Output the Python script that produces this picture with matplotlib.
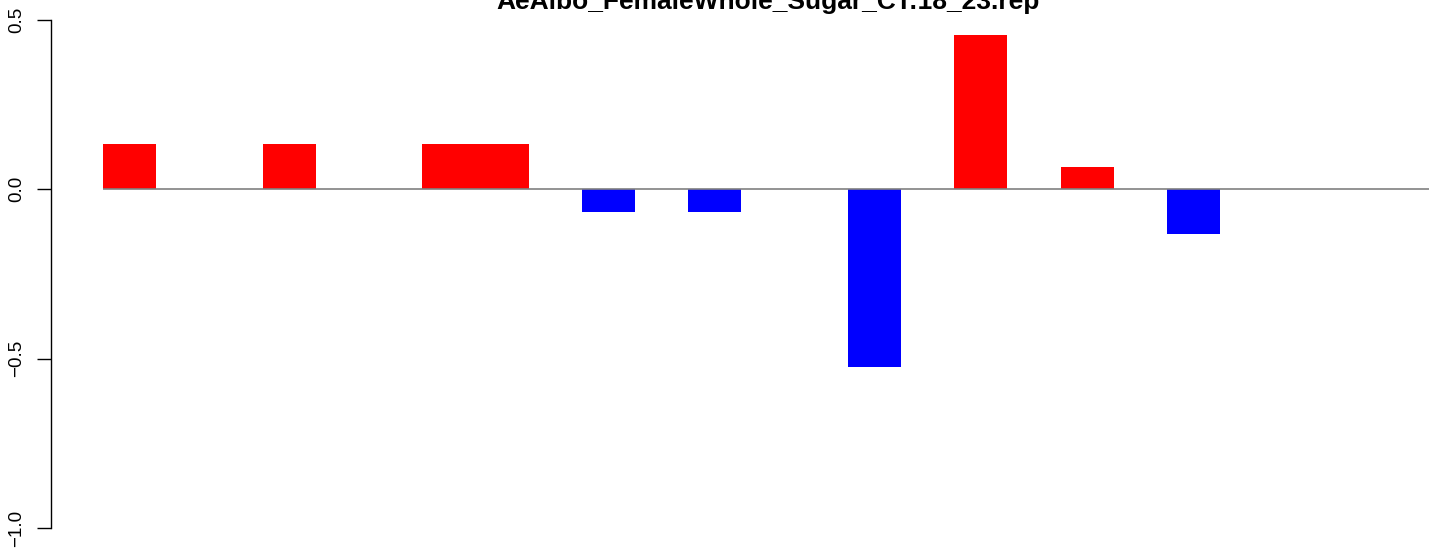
import matplotlib
matplotlib.use("Agg")
import matplotlib.pyplot as plt
import numpy as np

title = "AeAlbo_FemaleWhole_Sugar_CT:18_23.rep"
values = [0.133, 0, 0, 0.133, 0, 0, 0.133, 0.133, 0, -0.067, 0, -0.067,
          0, 0, -0.525, 0, 0.455, 0, 0.066, 0, -0.132, 0, 0, 0]
yticks = [0.5, 0.0, -0.5, -1.0]
ytick_labels = ["0.5", "0.0", "\u22120.5", "\u22121.0"]

plt.rcParams['font.family'] = ['Liberation Sans', 'DejaVu Sans']

W, H = 1429, 552
fig = plt.figure(figsize=(W / 100, H / 100), dpi=100)

n = len(values)
xlo, xhi = -0.04 * n, n + 0.04 * n
ylo, yhi = -1.06, 0.56
unit = 53.2
left_px = 103 - 0.96 * unit
right_px = left_px + (xhi - xlo) * unit
top_px = 20 - 0.06 * 338.67
bot_px = 528 + 0.06 * 338.67
ax = fig.add_axes([left_px / W, 1 - bot_px / H, (right_px - left_px) / W, (bot_px - top_px) / H])
ax.set_xlim(xlo, xhi)
ax.set_ylim(ylo, yhi)

x = np.arange(n)
colors = ['red' if v > 0 else 'blue' for v in values]
for xi, v, c in zip(x, values, colors):
    if v != 0:
        ax.bar(xi, v, width=1.0, align='edge', color=c, linewidth=0, zorder=2)
ax.plot([0, xhi], [0, 0], color='#808080', lw=1.2, zorder=3, solid_capstyle='butt')

for s in ['top', 'right', 'bottom']:
    ax.spines[s].set_visible(False)
ax.spines['left'].set_bounds(-1.0, 0.5)
ax.spines['left'].set_linewidth(1.0)
ax.spines['left'].set_position(('outward', 1))
ax.set_xticks([])
ax.set_yticks(yticks)
ax.set_yticklabels(ytick_labels, rotation=90, va='center', fontsize=13.5)
ax.tick_params(axis='y', length=10, width=1.0, pad=8)
ax.patch.set_visible(False)

fig.text(768 / W, 1 - 9 / H, title, ha='center', va='baseline',
         fontsize=19, fontweight='bold')

fig.savefig("out.png", dpi=100, facecolor='white')
